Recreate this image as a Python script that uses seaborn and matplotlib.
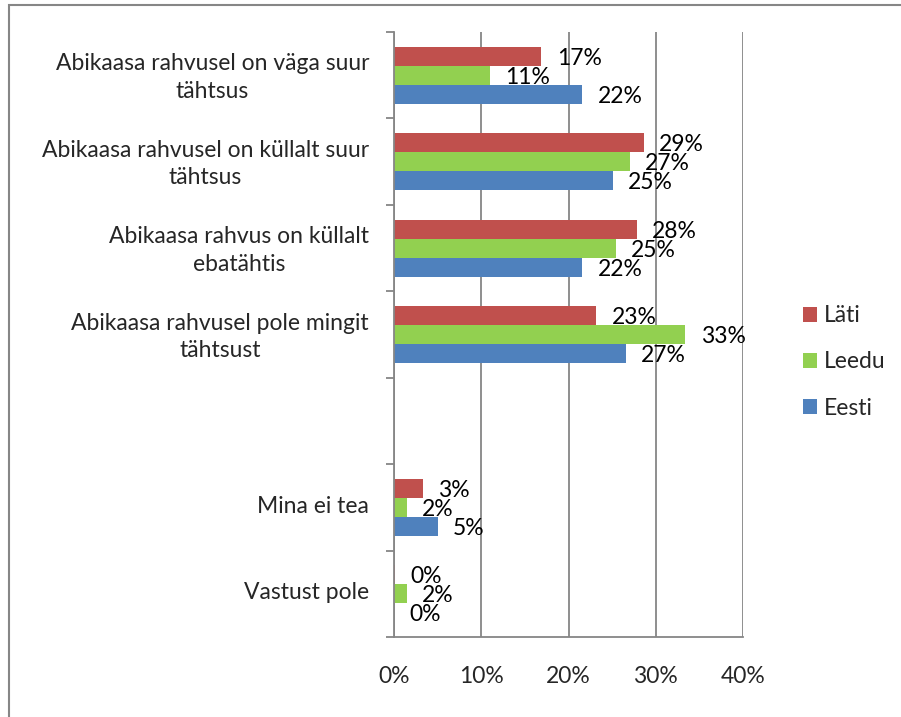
import matplotlib
matplotlib.use("Agg")
import matplotlib.pyplot as plt
from matplotlib.patches import Rectangle
from matplotlib.ticker import FuncFormatter
import matplotlib.transforms as mtransforms
import numpy as np
import pandas as pd
import seaborn as sns

# categories, top to bottom (one blank slot between the two groups)
categories = [
    "Abikaasa rahvusel on väga suur tähtsus",
    "Abikaasa rahvusel on küllalt suur tähtsus",
    "Abikaasa rahvus on küllalt ebatähtis",
    "Abikaasa rahvusel pole mingit tähtsust",
    "",
    "Mina ei tea",
    "Vastust pole",
]
tick_labels = [
    "Abikaasa rahvusel on väga suur\ntähtsus",
    "Abikaasa rahvusel on küllalt suur\ntähtsus",
    "Abikaasa rahvus on küllalt\nebatähtis",
    "Abikaasa rahvusel pole mingit\ntähtsust",
    "",
    "Mina ei tea",
    "Vastust pole",
]
series = ["Läti", "Leedu", "Eesti"]
colors = ["#C0504D", "#92D050", "#4F81BD"]

# percent, in the order of the non-blank categories
lati = [16.9, 28.6, 27.8, 23.2, 3.3, 0.15]
leedu = [11.0, 27.0, 25.4, 33.4, 1.5, 1.5]
eesti = [21.6, 25.1, 21.6, 26.6, 5.0, 0.0]

GRAY = "#868686"
FS = 16.5


def build_frame() -> pd.DataFrame:
    cats = [c for c in categories if c]
    rows = []
    for name, vals in zip(series, [lati, leedu, eesti]):
        for c, v in zip(cats, vals):
            rows.append({"kategooria": c, "riik": name, "osakaal": v})
    return pd.DataFrame(rows)


def main():
    df = build_frame()
    sns.set_style("white")
    plt.rcParams["font.family"] = ["Lato", "DejaVu Sans"]
    plt.rcParams["font.size"] = FS

    fig = plt.figure(figsize=(9.01, 7.17), dpi=100)
    ax = fig.add_axes([394 / 901, 1 - 637 / 717, 349 / 901, 605 / 717])

    sns.barplot(data=df, x="osakaal", y="kategooria", hue="riik", order=categories,
                hue_order=series, palette=colors, orient="h", width=0.66,
                linewidth=0, saturation=1, ax=ax)

    for c in ax.containers:
        labels = [f"{round(r.get_width()):.0f}%" for r in c]
        texts = ax.bar_label(c, labels=labels, padding=11, fontsize=FS, color="black")
        for t in texts:
            ox, oy = t.xyann
            t.xyann = (ox, oy - 1.5)

    ax.set_xlim(0, 40)
    ax.set_xticks([0, 10, 20, 30, 40])
    ax.xaxis.set_major_formatter(FuncFormatter(lambda x, _: f"{x:.0f}%"))
    ax.tick_params(axis="x", length=6, width=1.3, color=GRAY, pad=15, labelsize=FS)

    ax.set_ylim(6.5, -0.5)
    ax.set_yticks(range(len(categories)))
    ax.set_yticklabels(tick_labels, linespacing=1.4)
    for t in ax.get_yticklabels():
        t.set_multialignment("center")
    ax.set_yticks(np.arange(-0.5, len(categories), 1), minor=True)
    ax.tick_params(axis="y", which="major", length=0, pad=18, labelsize=FS)
    ax.tick_params(axis="y", which="minor", length=6, width=1.3, color=GRAY, left=True)
    shift = mtransforms.ScaledTranslation(0, 3 / 100, fig.dpi_scale_trans)
    for t in ax.get_yticklabels():
        t.set_transform(t.get_transform() + shift)

    ax.set_xlabel("")
    ax.set_ylabel("")
    ax.xaxis.grid(True, color=GRAY, lw=1.3)
    ax.set_axisbelow(True)
    for side in ["top", "right"]:
        ax.spines[side].set_visible(False)
    for side in ["left", "bottom"]:
        ax.spines[side].set_color(GRAY)
        ax.spines[side].set_linewidth(1.3)

    handles, labels = ax.get_legend_handles_labels()
    ax.legend(handles, labels, loc="center left", bbox_to_anchor=(803 / 901, 1 - 362 / 717),
              bbox_transform=fig.transFigure, frameon=False, fontsize=FS,
              handlelength=0.62, handleheight=0.62, handletextpad=0.3,
              labelspacing=1.1, borderpad=0, borderaxespad=0)

    # outer chart frame (cut off on the right and bottom)
    fig.add_artist(Rectangle((9 / 901, -0.1), 1.2, 1.1 - 5 / 717, transform=fig.transFigure,
                             fill=False, edgecolor=GRAY, lw=1.5))

    fig.savefig("out.png", dpi=100)
    plt.close(fig)


if __name__ == "__main__":
    main()
